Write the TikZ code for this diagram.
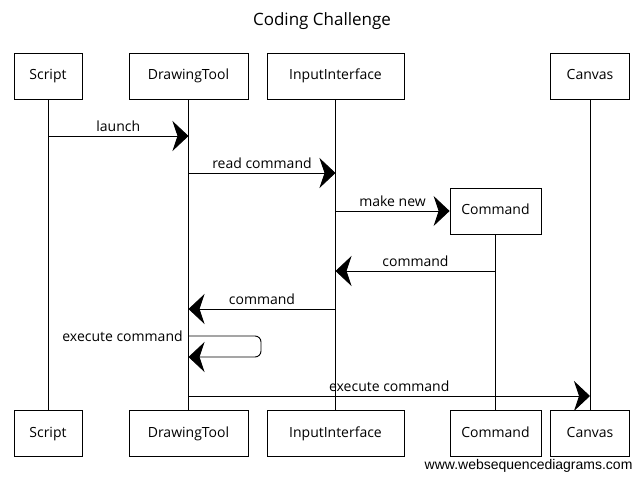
\documentclass[tikz,border=0pt]{standalone}
\usepackage{fontspec}
\setmainfont{Open Sans}
\newfontfamily\footfont{Liberation Sans}
\usetikzlibrary{arrows.meta,positioning}

\begin{document}
\begin{tikzpicture}[x=1pt,y=-1pt,font=\fontsize{14}{16}\selectfont,
  actor/.style={draw,line width=0.8pt,minimum height=46pt,inner sep=0pt,fill=white,text height=10pt,text depth=3pt},
  life/.style={line width=0.6pt},
  msg/.style={line width=0.9pt,-{Stealth[length=16pt,width=30pt,inset=5pt]}},
  lbl/.style={above=3pt,inner sep=1pt}]
  \useasboundingbox[fill=white] (0,0) rectangle (644,481);
  \node[font=\fontsize{17}{19}\selectfont] (title) at (322,21) {Coding Challenge};
  % participants, top row
  \node[actor,minimum width=68pt] (scriptT) at (48,76) {Script};
  \node[actor,minimum width=119pt] (toolT) at (188.5,76) {DrawingTool};
  \node[actor,minimum width=137pt] (inputT) at (335.5,76) {InputInterface};
  \node[actor,minimum width=79pt] (canvasT) at (590,76) {Canvas};
  \node[actor,minimum width=91pt] (cmdT) at (495.5,211) {Command};
  % participants, bottom row
  \node[actor,minimum width=68pt] (scriptB) at (48,433.5) {Script};
  \node[actor,minimum width=119pt] (toolB) at (188.5,433.5) {DrawingTool};
  \node[actor,minimum width=137pt] (inputB) at (335.5,433.5) {InputInterface};
  \node[actor,minimum width=91pt] (cmdB) at (495.5,433.5) {Command};
  \node[actor,minimum width=79pt] (canvasB) at (590,433.5) {Canvas};
  % lifelines
  \draw[life] (scriptT) -- (scriptB);
  \draw[life] (toolT) -- (toolB);
  \draw[life] (inputT) -- (inputB);
  \draw[life] (cmdT) -- (cmdB);
  \draw[life] (canvasT) -- (canvasB);
  % messages
  \draw[msg] (scriptT.south |- 0,136) -- node[lbl] {launch} (toolT.south |- 0,136);
  \draw[msg] (toolT.south |- 0,173) -- node[lbl] {read command} (inputT.south |- 0,173);
  \draw[msg] (inputT.south |- cmdT.west) -- node[lbl] {make new} (cmdT.west);
  \draw[msg] (cmdT.south |- 0,271) -- node[lbl] {command} (inputT.south |- 0,271);
  \draw[msg] (inputT.south |- 0,309) -- node[lbl] {command} (toolT.south |- 0,309);
  \draw[msg,rounded corners=6pt] (toolT.south |- 0,336) node[left=2pt] {execute command}
    -- (261,336) -- (261,357) -- (toolT.south |- 0,357);
  \draw[msg] (toolT.south |- 0,396) -- node[lbl] {execute command} (canvasT.south |- 0,396);
  \node[font=\footfont\fontsize{14}{16}\selectfont,anchor=east] (site) at (636,466) {www.websequencediagrams.com};
\end{tikzpicture}
\end{document}
